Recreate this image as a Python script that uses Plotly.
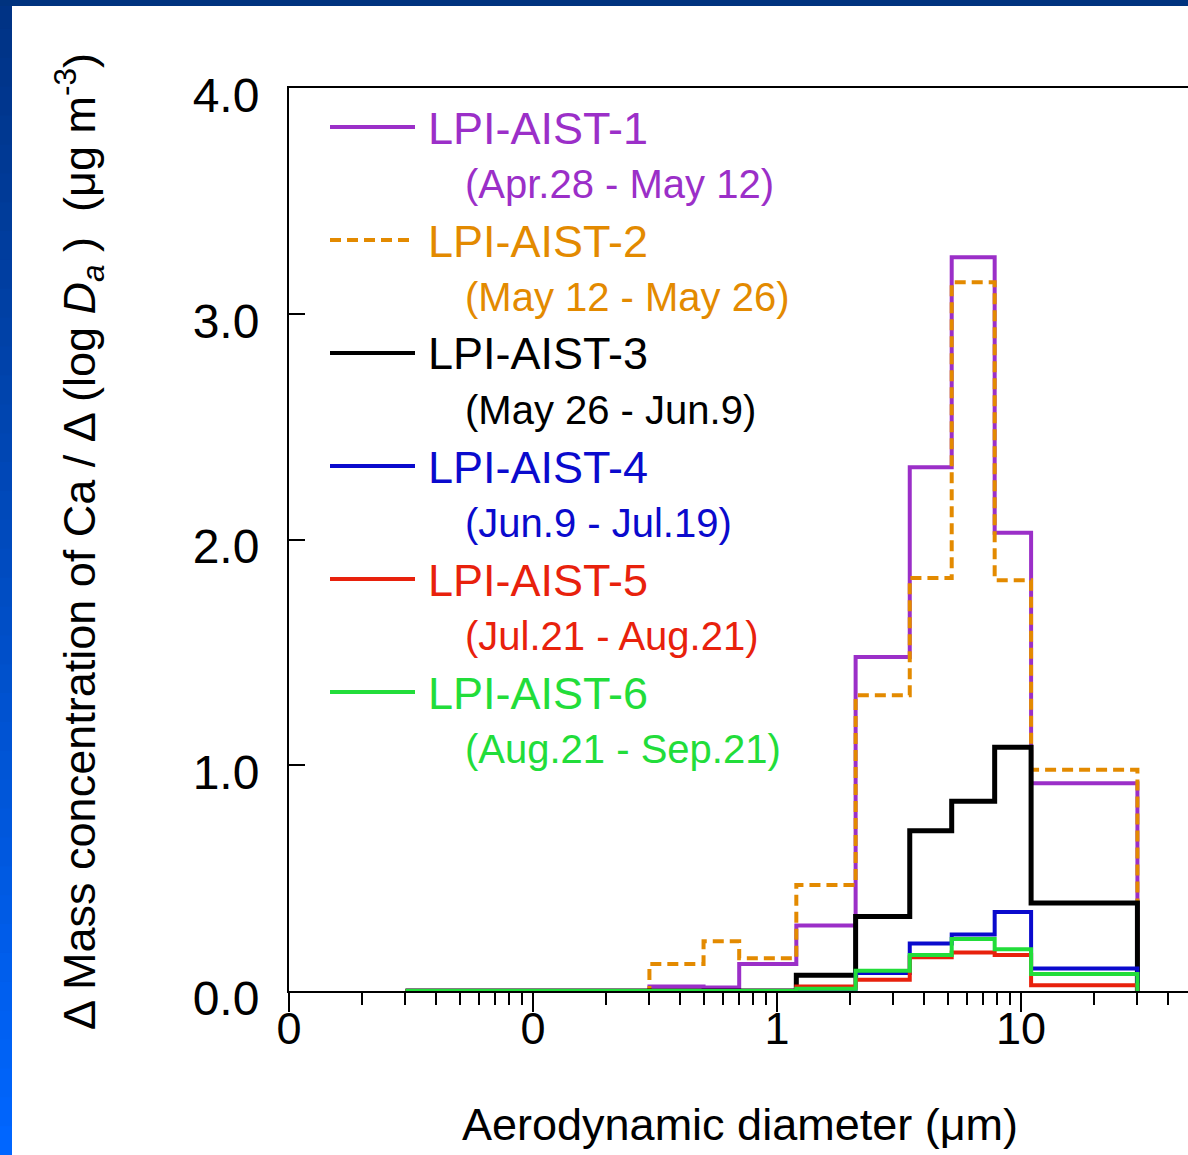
import plotly.graph_objects as go
import numpy as np

# ---------------- data ----------------
edges = [0.03, 0.06, 0.12, 0.2, 0.3, 0.5, 0.7, 1.2, 2.1, 3.5, 5.2, 7.8, 11, 30]
lpi1 = [0, 0, 0, 0, 0.02, 0.015, 0.12, 0.29, 1.48, 2.32, 3.25, 2.03, 0.92]
lpi2 = [0, 0, 0, 0, 0.12, 0.22, 0.145, 0.47, 1.31, 1.83, 3.14, 1.82, 0.98]
lpi3 = [0, 0, 0, 0, 0, 0, 0, 0.07, 0.33, 0.71, 0.84, 1.08, 0.39]
lpi4 = [0, 0, 0, 0, 0, 0, 0, 0.01, 0.08, 0.21, 0.25, 0.35, 0.10]
lpi5 = [0, 0, 0, 0, 0, 0, 0, 0.02, 0.05, 0.15, 0.17, 0.16, 0.025]
lpi6 = [0, 0, 0, 0, 0, 0, 0, 0.01, 0.09, 0.16, 0.23, 0.185, 0.075]

names = ["LPI-AIST-1", "LPI-AIST-2", "LPI-AIST-3", "LPI-AIST-4", "LPI-AIST-5", "LPI-AIST-6"]
periods = ["(Apr.28 - May 12)", "(May 12 - May 26)", "(May 26 - Jun.9)",
           "(Jun.9 - Jul.19)", "(Jul.21 - Aug.21)", "(Aug.21 - Sep.21)"]
series = [lpi1, lpi2, lpi3, lpi4, lpi5, lpi6]
colors = ["#9B2FC8", "#E38A00", "#000000", "#0A0ACD", "#E8210C", "#22DD3A"]
dashes = ["solid", "11px,6px", "solid", "solid", "solid", "solid"]
widths = [4, 4, 5, 4, 4, 4]

xtick_vals = [0.01, 0.1, 1, 10]
xtick_text = ["0", "0", "1", "10"]
ytick_vals = [0, 1, 2, 3, 4]
ytick_text = ["0.0", "1.0", "2.0", "3.0", "4.0"]

# ---------------- layout geometry ----------------
W, H = 1188, 1155
ML, MT, MB, MR = 289, 88, 164, 0
PW, PH = W - ML - MR, H - MT - MB
DEC = 244.0  # pixels per decade
xr = [-2, -2 + PW / DEC]

def px(x):
    return (x - ML) / PW

def py(y):
    return (H - MB - y) / PH

FONT = "Liberation Sans, Arial, sans-serif"

fig = go.Figure()

for vals, c, d, w, n in zip(series, colors, dashes, widths, names):
    xs = [edges[0]] + edges[:-1] + [edges[-1]]
    ys = [0] + list(vals) + [0]
    fig.add_trace(go.Scatter(x=xs, y=ys, mode="lines", line_shape="hv",
                             line=dict(color=c, width=w, dash=d),
                             name=n, showlegend=False, hoverinfo="skip"))

shapes = []
# background frame strips (blue gradient on left, navy on top)
nseg = 40
c0 = np.array([0x00, 0x33, 0x85])
c1 = np.array([0x00, 0x66, 0xFF])
for i in range(nseg):
    t = i / (nseg - 1)
    cc = (c0 + (c1 - c0) * t).astype(int)
    y0 = H * i / nseg
    y1 = H * (i + 1) / nseg + 1
    shapes.append(dict(type="rect", xref="paper", yref="paper", layer="below",
                       x0=px(0), x1=px(12), y0=py(y1), y1=py(y0),
                       fillcolor="rgb(%d,%d,%d)" % tuple(cc), line=dict(width=0)))
shapes.append(dict(type="rect", xref="paper", yref="paper", layer="below",
                   x0=px(0), x1=1.0, y0=py(6), y1=py(0),
                   fillcolor="#00337F", line=dict(width=0)))

annotations = []
for i, (n, p, c, d) in enumerate(zip(names, periods, colors, dashes)):
    yl = 127 + 113 * i
    yd = 183 + 113 * i
    shapes.append(dict(type="line", xref="paper", yref="paper",
                       x0=px(330), x1=px(415), y0=py(yl), y1=py(yl),
                       line=dict(color=c, width=4, dash=d)))
    annotations.append(dict(text=n, xref="paper", yref="paper", x=px(426), y=py(yl + 1),
                            xanchor="left", yanchor="middle", showarrow=False,
                            font=dict(size=45, color=c, family=FONT)))
    annotations.append(dict(text=p, xref="paper", yref="paper", x=px(463), y=py(yd + 1),
                            xanchor="left", yanchor="middle", showarrow=False,
                            font=dict(size=40, color=c, family=FONT)))

annotations.append(dict(
    text="Δ Mass concentration of Ca / Δ (log <i>D</i><sub><i>a</i></sub> )  (μg m<sup>-3</sup>)",
    xref="paper", yref="paper", x=px(79), y=py(542), textangle=-90,
    xanchor="center", yanchor="middle", showarrow=False,
    font=dict(size=45, color="black", family=FONT)))
annotations.append(dict(
    text="Aerodynamic diameter (μm)", xref="paper", yref="paper",
    x=px(740), y=py(1124), xanchor="center", yanchor="middle", showarrow=False,
    font=dict(size=45, color="black", family=FONT)))

minor_vals = [k * 10.0 ** e for e in range(-2, 2) for k in range(2, 10)]

fig.update_layout(
    width=W, height=H,
    margin=dict(l=ML, r=MR, t=MT, b=MB, autoexpand=False),
    paper_bgcolor="white", plot_bgcolor="white",
    showlegend=False,
    shapes=shapes, annotations=annotations,
    font=dict(family=FONT, color="black"),
    xaxis=dict(type="log", range=xr, showgrid=False, zeroline=False,
               showline=True, linecolor="black", linewidth=2, mirror=True,
               tickmode="array", tickvals=xtick_vals, ticktext=xtick_text,
               ticks="outside", ticklen=19, tickwidth=2, tickcolor="black",
               ticklabelstandoff=-22,
               tickfont=dict(size=45, family=FONT, color="black"),
               minor=dict(tickmode="array", tickvals=minor_vals, ticks="outside",
                          ticklen=12, tickwidth=2, tickcolor="black", showgrid=False)),
    yaxis=dict(range=[0, 4], showgrid=False, zeroline=False,
               showline=True, linecolor="black", linewidth=2, mirror=False,
               tickmode="array", tickvals=ytick_vals, ticktext=ytick_text,
               ticks="inside", ticklen=16, tickwidth=2, tickcolor="black",
               ticklabelstandoff=18, ticklabelshift=7,
               tickfont=dict(size=48, family=FONT, color="black")),
)

fig.write_html("out.html")
